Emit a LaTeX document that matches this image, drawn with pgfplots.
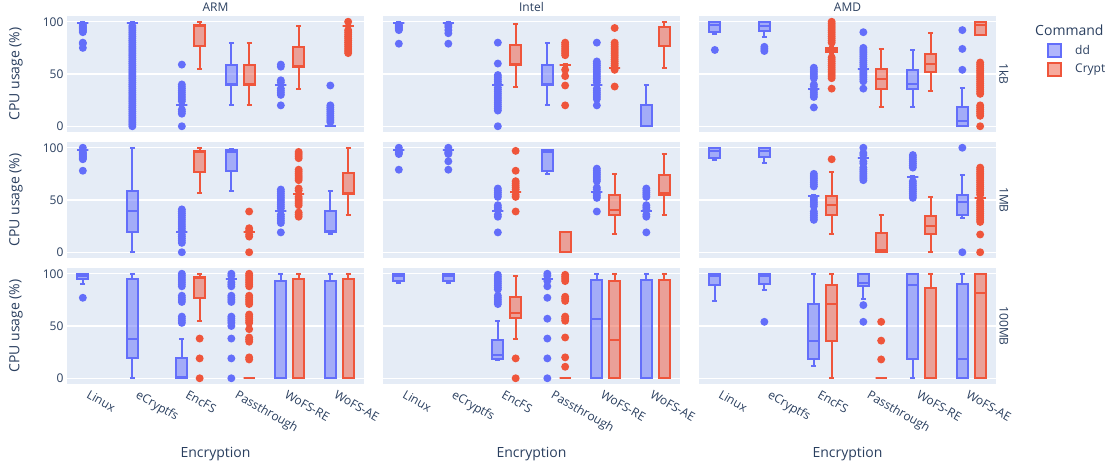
\documentclass[border=0pt]{standalone}
\usepackage{pgfplots}
\pgfplotsset{compat=1.18}
\usepgfplotslibrary{statistics}
\usepackage{fontspec}
\setmainfont{Open Sans}
\definecolor{ddc}{HTML}{636EFA}
\definecolor{crc}{HTML}{EF553B}
\definecolor{bgc}{HTML}{E5ECF6}
\definecolor{txtc}{HTML}{2A3F5F}
\newcommand{\BX}[8]{%
  \gdef\olist{}%
  \def\tmparg{#8}%
  \ifx\tmparg\empty\else
    \foreach \myv in {#8} {\xdef\olist{\olist (0,\myv)}}%
  \fi
  \edef\temp{\noexpand\addplot[#1, boxplot prepared={draw position=#2, lower whisker=#3, lower quartile=#4, median=#5, upper quartile=#6, upper whisker=#7}] coordinates {\olist};}%
  \temp
}
\pgfplotsset{
  panel/.style={
    scale only axis, width=297pt, height=116pt,
    xmin=-0.5, xmax=5.5, ymin=-5.5, ymax=105.5,
    axis background/.style={fill=bgc},
    axis line style={draw=none},
    xtick={0,...,5}, ytick={0,50,100},
    ymajorgrids, major grid style={white, line width=1.3pt},
    major tick length=0pt,
    xticklabels={}, yticklabels={},
    tick label style={font=\fontsize{12}{14}\selectfont, text=txtc},
    boxplot/draw direction=y,
    boxplot/box extend=0.22, boxplot/whisker extend=0.1,
    clip=false,
  },
  ddb/.style={draw=ddc, line width=2pt, mark=*, mark size=2.9pt,
    mark options={draw=none, fill=ddc, fill opacity=1},
    boxplot/every box/.style={fill=ddc, fill opacity=0.5}},
  crb/.style={draw=crc, line width=2pt, mark=*, mark size=2.9pt,
    mark options={draw=none, fill=crc, fill opacity=1},
    boxplot/every box/.style={fill=crc, fill opacity=0.5}},
  bottomrow/.style={xticklabels={Linux,eCryptfs,EncFS,Passthrough,WoFS-RE,WoFS-AE},
    xticklabel style={rotate=-30, anchor=north west, xshift=-2pt, yshift=-2pt}},
  leftcol/.style={yticklabels={0,50,100}},
}
\begin{document}
\begin{tikzpicture}
\useasboundingbox (0pt,0pt) rectangle (1107pt,467pt);
% ---------------- ARM 1kB
\begin{axis}[panel, leftcol, at={(67pt,451pt)}, anchor=north west]
\BX{ddb}{-0.18}{98}{99}{99}{99}{100}{90,91,...,97,80,79,75}
\BX{ddb}{0.82}{98}{99}{99}{99}{100}{0,2,...,96}
\BX{ddb}{1.82}{18}{20}{20}{20}{22}{0,12,14,16,24,26,...,40,59}
\BX{crb}{2.18}{55}{77}{96}{97}{100}{}
\BX{ddb}{2.82}{20}{39}{40}{59}{80}{}
\BX{crb}{3.18}{20}{39}{40}{59}{80}{}
\BX{ddb}{3.82}{38}{39}{39}{39}{40}{20,30,32,...,36,42,44,57,59}
\BX{crb}{4.18}{36}{57}{58}{76}{96}{}
\BX{ddb}{4.82}{0}{0}{0}{0}{2}{4,6,...,20,39}
\BX{crb}{5.18}{94}{96}{96}{96}{98}{70,72,...,92,100}
\end{axis}
% ---------------- Intel 1kB
\begin{axis}[panel, at={(383pt,451pt)}, anchor=north west]
\BX{ddb}{-0.18}{98}{99}{99}{99}{100}{92,93,...,97,79}
\BX{ddb}{0.82}{98}{99}{99}{99}{100}{97,95,92,89,79}
\BX{ddb}{1.82}{38}{39}{39}{39}{40}{0,15,17,...,37,41,43,...,49,60,80}
\BX{crb}{2.18}{38}{59}{60}{78}{98}{}
\BX{ddb}{2.82}{20}{39}{40}{59}{80}{}
\BX{crb}{3.18}{58}{59}{59}{59}{60}{20,39,48,54,68,70,...,80}
\BX{ddb}{3.82}{38}{39}{39}{39}{40}{20,26,28,...,36,42,44,...,62,80}
\BX{crb}{4.18}{55}{56}{56}{56}{57}{38,54,58,60,...,80,94}
\BX{ddb}{4.82}{0}{0}{0}{20}{39}{}
\BX{crb}{5.18}{56}{77}{95}{95}{100}{}
\end{axis}
% ---------------- AMD 1kB
\begin{axis}[panel, at={(699pt,451pt)}, anchor=north west]
\BX{ddb}{-0.18}{88}{90}{97}{100}{100}{73}
\BX{ddb}{0.82}{85}{91}{96}{100}{100}{72,74,76}
\BX{ddb}{1.82}{35}{36}{36}{36}{37}{18,28,30,32,34,38,40,46,48,...,56}
\BX{crb}{2.18}{70}{71}{73}{75}{76}{36,46,48,...,66,80,82,...,100}
\BX{ddb}{2.82}{54}{55}{55}{55}{56}{36,43,45,...,53,57,59,...,75,90}
\BX{crb}{3.18}{18}{36}{45}{55}{74}{}
\BX{ddb}{3.82}{18}{36}{40}{54}{73}{}
\BX{crb}{4.18}{34}{52}{60}{69}{89}{}
\BX{ddb}{4.82}{0}{0}{5}{18}{37}{54,74,92}
\BX{crb}{5.18}{87}{87}{97}{100}{100}{0,10,12,...,20,31,33,...,61}
\end{axis}
% ---------------- ARM 1MB
\begin{axis}[panel, leftcol, at={(67pt,325pt)}, anchor=north west]
\BX{ddb}{-0.18}{97}{98}{98}{98}{99}{89,90,...,96,100,78}
\BX{ddb}{0.82}{0}{19}{39}{59}{100}{}
\BX{ddb}{1.82}{18}{19}{19}{19}{20}{0,9,11,...,17,21,23,...,41}
\BX{crb}{2.18}{57}{77}{96}{97}{100}{}
\BX{ddb}{2.82}{59}{78}{96}{98}{98.5}{}
\BX{crb}{3.18}{18}{19}{19}{19}{20}{0,15,17,21,23,39}
\BX{ddb}{3.82}{38}{39}{39}{39}{40}{19,28,30,...,36,42,44,...,60}
\BX{crb}{4.18}{55}{56}{56}{56}{57}{34,36,38,45,47,...,53,59,61,69,71,...,79,90,92,...,96}
\BX{ddb}{4.82}{17}{19}{20}{39}{59}{}
\BX{crb}{5.18}{36}{56}{57}{76}{100}{}
\end{axis}
% ---------------- Intel 1MB
\begin{axis}[panel, at={(383pt,325pt)}, anchor=north west]
\BX{ddb}{-0.18}{97}{98}{98}{98}{99}{94,95,96,100,79}
\BX{ddb}{0.82}{97}{98}{98}{98}{99}{94,95,96,100,87,79}
\BX{ddb}{1.82}{38}{39}{39}{39}{40}{19,34,36,41,43,45,53,55,...,61}
\BX{crb}{2.18}{57}{58}{58}{58}{59}{39,53,55,60,62,...,68,78,97}
\BX{ddb}{2.82}{75}{78}{96}{98}{98}{}
\BX{crb}{3.18}{0}{0}{0}{19}{19}{}
\BX{ddb}{3.82}{57}{58}{58}{58}{59}{39,52,54,56,60,62,68,70,...,80}
\BX{crb}{4.18}{17}{36}{40}{55}{75}{}
\BX{ddb}{4.82}{38}{39}{39}{39}{40}{19,34,36,41,43,45,53,55,...,61}
\BX{crb}{5.18}{36}{55}{57}{74}{94}{}
\end{axis}
% ---------------- AMD 1MB
\begin{axis}[panel, at={(699pt,325pt)}, anchor=north west]
\BX{ddb}{-0.18}{88}{90}{97}{100}{100}{}
\BX{ddb}{0.82}{85}{91}{97}{100}{100}{}
\BX{ddb}{1.82}{53}{54}{54}{54}{55}{31,33,...,39,44,46,...,52,63,65,...,75}
\BX{crb}{2.18}{17}{36}{45}{54}{77}{89}
\BX{ddb}{2.82}{89}{90}{90}{90}{91}{69,71,...,81,85,87,93,95,100}
\BX{crb}{3.18}{0}{0}{2}{18}{36}{}
\BX{ddb}{3.82}{71}{72}{72}{72}{73}{52,54,...,68,81,83,...,93}
\BX{crb}{4.18}{0}{17}{25}{35}{53}{}
\BX{ddb}{4.82}{33}{36}{48}{55}{74}{0,100}
\BX{crb}{5.18}{51}{52}{52}{52}{53}{0,17,29,31,...,49,55,57,...,81}
\end{axis}
% ---------------- ARM 100MB
\begin{axis}[panel, leftcol, bottomrow, at={(67pt,199pt)}, anchor=north west]
\BX{ddb}{-0.18}{90}{95}{98}{100}{100}{77}
\BX{ddb}{0.82}{0}{19}{38}{95}{100}{}
\BX{ddb}{1.82}{0}{0}{1}{19}{38}{53,55,57,59,73,75,77,79,88,90,...,100}
\BX{crb}{2.18}{55}{77}{96}{97}{100}{0,19,38}
\BX{ddb}{2.82}{94}{95}{95}{95}{96}{0,19,38,50,53,55,57,59,73,75,77,79,88,90,92,98,100}
\BX{crb}{3.18}{0}{0}{0}{0}{0}{18,20,35,37,39,47,53,55,...,61,71,73,...,79,88,90,...,100}
\BX{ddb}{3.82}{0}{0}{0}{93}{100}{}
\BX{crb}{4.18}{0}{0}{0}{95}{100}{}
\BX{ddb}{4.82}{0}{0}{0}{93}{100}{}
\BX{crb}{5.18}{0}{0}{0}{95}{100}{}
\end{axis}
% ---------------- Intel 100MB
\begin{axis}[panel, bottomrow, at={(383pt,199pt)}, anchor=north west]
\BX{ddb}{-0.18}{91}{93}{98}{100}{100}{}
\BX{ddb}{0.82}{91}{93}{98}{100}{100}{}
\BX{ddb}{1.82}{17}{18}{22}{37}{55}{71,73,...,79,85,87,...,100}
\BX{crb}{2.18}{38}{58}{62}{78}{98}{0,19}
\BX{ddb}{2.82}{94}{95}{95}{95}{96}{0,19,38,57,77,88,93,98,100}
\BX{crb}{3.18}{0}{0}{0}{0}{0}{11,20,39,55,57,59,74,76,78,93,95,97,99}
\BX{ddb}{3.82}{0}{0}{57}{94}{100}{}
\BX{crb}{4.18}{0}{0}{37}{93}{100}{}
\BX{ddb}{4.82}{0}{0}{0}{94}{100}{}
\BX{crb}{5.18}{0}{0}{0}{94}{100}{}
\end{axis}
% ---------------- AMD 100MB
\begin{axis}[panel, bottomrow, at={(699pt,199pt)}, anchor=north west]
\BX{ddb}{-0.18}{74}{89}{98}{100}{100}{}
\BX{ddb}{0.82}{84}{90}{98}{100}{100}{54}
\BX{ddb}{1.82}{12}{18}{36}{71}{100}{}
\BX{crb}{2.18}{0}{36}{71}{89}{100}{}
\BX{ddb}{2.82}{76}{88}{91}{100}{100}{54,70}
\BX{crb}{3.18}{0}{0}{0}{0}{0}{18,36,54}
\BX{ddb}{3.82}{0}{18}{89}{100}{100}{}
\BX{crb}{4.18}{0}{0}{0}{86}{100}{}
\BX{ddb}{4.82}{0}{0}{18}{90}{100}{}
\BX{crb}{5.18}{0}{0}{82}{100}{100}{}
\end{axis}
% ---------------- texts
\tikzset{t12/.style={font=\fontsize{12}{14}\selectfont, text=txtc, inner sep=0pt},
         t14/.style={font=\fontsize{14}{16}\selectfont, text=txtc, inner sep=0pt}}
\node[t12] at (215.5pt,460pt) {ARM};
\node[t12] at (531.5pt,460pt) {Intel};
\node[t12] at (847.5pt,460pt) {AMD};
\node[t14, rotate=90] at (16pt,393pt) {CPU usage (\%)};
\node[t14, rotate=90] at (16pt,267pt) {CPU usage (\%)};
\node[t14, rotate=90] at (16pt,141pt) {CPU usage (\%)};
\node[t12, rotate=-90] at (1004pt,393pt) {1kB};
\node[t12, rotate=-90] at (1004pt,267pt) {1MB};
\node[t12, rotate=-90] at (1004pt,141pt) {100MB};
\node[t14] at (215.5pt,13pt) {Encryption};
\node[t14] at (531.5pt,13pt) {Encryption};
\node[t14] at (847.5pt,13pt) {Encryption};
\node[t14, anchor=west] at (1035pt,437pt) {Command};
\draw[ddc, line width=2pt, fill=ddc, fill opacity=0.5] (1048pt,423pt) rectangle (1061pt,410pt);
\draw[crc, line width=2pt, fill=crc, fill opacity=0.5] (1048pt,404pt) rectangle (1061pt,391pt);
\node[t12, anchor=west] at (1075pt,416.5pt) {dd};
\node[t12, anchor=west] at (1075pt,397.5pt) {Crypt};
\end{tikzpicture}
\end{document}
